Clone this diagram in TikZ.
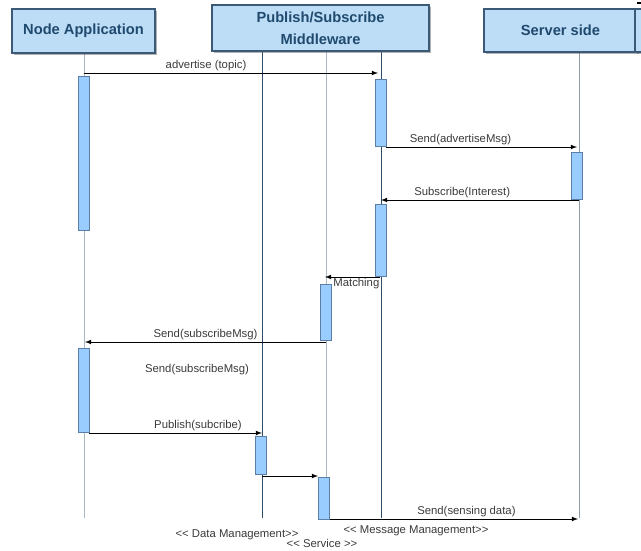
\documentclass[tikz,border=0pt]{standalone}
\usepackage{fontspec}
\setmainfont{Liberation Sans}
\usetikzlibrary{arrows,shadows}

\definecolor{headfill}{HTML}{BDDDF7}
\definecolor{headline}{HTML}{3C5A78}
\definecolor{headtext}{HTML}{1F4A6E}
\definecolor{barfill}{HTML}{99CCFF}
\definecolor{barline}{HTML}{5A7EA4}
\definecolor{lifedark}{HTML}{2E4D6E}
\definecolor{lifelight}{HTML}{A9B9CA}
\definecolor{lifegray}{HTML}{8C9CAC}
\definecolor{labeltext}{HTML}{3A3A3A}

\tikzset{
  head/.style={draw=headline, line width=1pt, fill=headfill, text=headtext,
    font=\bfseries\fontsize{11}{16.5}\selectfont, align=center, inner sep=0pt,
    drop shadow={shadow xshift=1.2pt, shadow yshift=-1.2pt, fill=black!60}},
  bar/.style={draw=barline, fill=barfill, line width=0.6pt,
    minimum width=8.25pt, inner sep=0pt},
  msg/.style={-latex, line width=0.6pt, black},
  lbl/.style={text=labeltext, font=\fontsize{8.5}{10}\selectfont, inner sep=1.5pt},
  life/.style={line width=0.6pt},
}

\begin{document}
\begin{tikzpicture}[x=0.75pt,y=-0.75pt]
\useasboundingbox (0,0) rectangle (641,550);
\clip (0,0) rectangle (641,550);

% lifelines
\foreach \x/\c in {84/lifelight,262/lifedark,326/lifelight,381/lifedark,579/lifegray}
  \draw[life,\c] (\x,50) -- (\x,518);

% activation bars
\node[bar, minimum height=115.5pt] (app act1) at (83.5,153) {};
\node[bar, minimum height=50.25pt] (mw act1) at (380.5,112.5) {};
\node[bar, minimum height=35.25pt] (srv act1) at (576.5,175.5) {};
\node[bar, minimum height=54pt] (mw act2) at (380.5,240) {};
\node[bar, minimum height=42pt] (mw act3) at (326,312) {};
\node[bar, minimum height=63pt] (app act2) at (83.5,390) {};
\node[bar, minimum height=28.5pt] (mw act4) at (261,455) {};
\node[bar, minimum height=31.5pt] (mw act5) at (324,498) {};

% message end points
\coordinate (adv s) at (84,73);   \coordinate (adv e) at (378,73);
\coordinate (amsg s) at (386,147); \coordinate (amsg e) at (577,147);
\coordinate (sub s) at (579,200);  \coordinate (sub e) at (381,200);
\coordinate (mat s) at (380,277);  \coordinate (mat e) at (325,277);
\coordinate (smsg s) at (326,342); \coordinate (smsg e) at (85,342);
\coordinate (pub s) at (89,433);   \coordinate (pub e) at (262,433);
\coordinate (fwd s) at (262,476);  \coordinate (fwd e) at (318,476);
\coordinate (sens s) at (330,519); \coordinate (sens e) at (578,519);

% messages
\draw[msg] (adv s) -- node[lbl, above, pos=0.415] {advertise (topic)} (adv e);
\draw[msg] (amsg s) -- node[lbl, above, pos=0.39] {Send(advertiseMsg)} (amsg e);
\draw[msg] (sub s) -- node[lbl, above, pos=0.59] {Subscribe(Interest)} (sub e);
\draw[msg] (mat s) -- node[lbl, below, pos=0.43, yshift=1pt] {Matching} (mat e);
\draw[msg] (smsg s) -- node[lbl, above, pos=0.5] {Send(subscribeMsg)} (smsg e);
\node[lbl] (smsg note) at (197,370) {Send(subscribeMsg)};
\draw[msg] (pub s) -- node[lbl, above, pos=0.63] {Publish(subcribe)} (pub e);
\draw[msg] (fwd s) -- (fwd e);
\draw[msg] (sens s) -- node[lbl, above, pos=0.55] {Send(sensing data)} (sens e);

% stereotypes below the middleware
\node[lbl] (data mgmt) at (237,535) {<{}< Data Management>{}>};
\node[lbl] (msg mgmt) at (416,531) {<{}< Message Management>{}>};
\node[lbl] (service) at (322,543) {<{}< Service >{}>};

% participants
\node[head, minimum width=107.25pt, minimum height=33pt] (app) at (83.5,31) {Node Application};
\node[head, minimum width=162.75pt, minimum height=34.5pt] (mw) at (320.5,28) {Publish/Subscribe\\Middleware};
\node[head, minimum width=114.75pt, minimum height=32.25pt] (srv) at (560.5,30.5) {Server side};
\node[head, minimum width=15pt, minimum height=32.25pt] (next) at (645,30.5) {};
\draw[line width=0.8pt] (637,3) -- (641,3);
\end{tikzpicture}
\end{document}
